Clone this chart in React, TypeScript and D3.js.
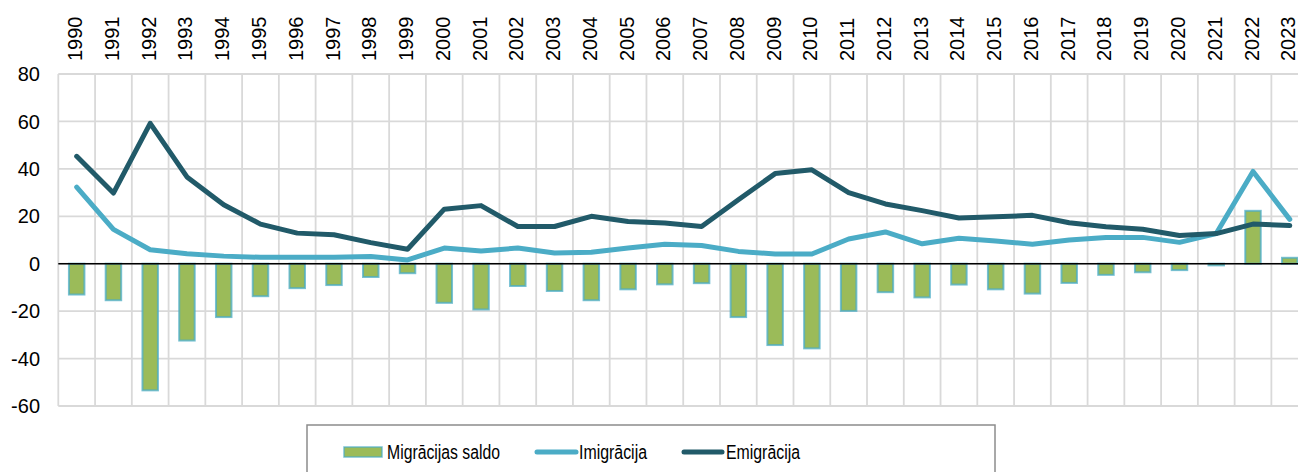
import React from "react";
import { scaleBand, scaleLinear, line } from "d3";

const years = [
  "1990", "1991", "1992", "1993", "1994", "1995", "1996", "1997", "1998", "1999",
  "2000", "2001", "2002", "2003", "2004", "2005", "2006", "2007", "2008", "2009",
  "2010", "2011", "2012", "2013", "2014", "2015", "2016", "2017", "2018", "2019",
  "2020", "2021", "2022", "2023",
];

const saldo = [
  -13.0, -15.4, -53.4, -32.4, -22.5, -13.7, -10.3, -9.0, -5.6, -4.0,
  -16.5, -19.3, -9.4, -11.5, -15.4, -10.8, -8.7, -8.2, -22.5, -34.3,
  -35.7, -19.9, -12.0, -14.2, -8.8, -10.8, -12.6, -8.1, -4.7, -3.6,
  -2.7, -0.7, 22.3, 2.5,
];

const imigracija = [
  32.3, 14.5, 5.9, 4.2, 3.2, 2.7, 2.7, 2.7, 3.0, 1.6,
  6.6, 5.4, 6.6, 4.5, 4.8, 6.6, 8.2, 7.7, 5.2, 4.1,
  4.1, 10.4, 13.4, 8.4, 10.7, 9.6, 8.2, 10.0, 11.1, 11.1,
  9.0, 12.7, 38.9, 18.7,
];

const emigracija = [
  45.3, 29.8, 59.2, 36.6, 24.9, 16.7, 12.9, 12.2, 8.9, 6.1,
  23.0, 24.5, 15.7, 15.7, 20.0, 17.8, 17.2, 15.7, 27.0, 38.0,
  39.6, 30.0, 25.2, 22.4, 19.3, 19.8, 20.4, 17.3, 15.6, 14.5,
  11.9, 12.7, 16.7, 16.1,
];

const yTicks = [80, 60, 40, 20, 0, -20, -40, -60];

const GREEN = "#9BBB59";
const LIGHT = "#4BACC6";
const DARK = "#215A69";
const GRID = "#d9d9d9";
const FONT = "'Liberation Sans', Arial, sans-serif";

export default function App() {
  const width = 1298;
  const height = 472;
  const left = 58.3;
  const step = 36.76;
  const top = 74;
  const bottom = 406;

  const x = scaleBand<string>()
    .domain(years)
    .range([left, left + step * years.length])
    .padding(0);
  const y = scaleLinear().domain([-60, 80]).range([bottom, top]);

  const cx = (i: number) => (x(years[i]) as number) + x.bandwidth() / 2;
  const barW = 15.5;

  const mkLine = line<number>()
    .x((_, i) => cx(i))
    .y((d) => y(d));

  const bandEdges = years.map((yr) => x(yr) as number);

  return (
    <svg
      width={width}
      height={height}
      style={{ position: "absolute", left: 0, top: 0, background: "#fff" }}
      fontFamily={FONT}
    >
      {/* grid */}
      {yTicks.map((t) => (
        <line
          key={"h" + t}
          x1={left}
          x2={width + 20}
          y1={y(t)}
          y2={y(t)}
          stroke={GRID}
          strokeWidth={1.8}
        />
      ))}
      {bandEdges.map((e, i) => (
        <line
          key={"v" + i}
          x1={e}
          x2={e}
          y1={top}
          y2={bottom}
          stroke={GRID}
          strokeWidth={1.8}
        />
      ))}

      {/* y labels */}
      {yTicks.map((t) => (
        <text
          key={"yl" + t}
          x={40}
          y={y(t)}
          dy="0.36em"
          textAnchor="end"
          fontSize={20}
          fill="#000"
        >
          {t}
        </text>
      ))}

      {/* year labels */}
      {years.map((yr, i) => (
        <text
          key={"xl" + yr}
          transform={`translate(${cx(i) + 5.5},61) rotate(-90)`}
          textAnchor="start"
          fontSize={20}
          fill="#000"
        >
          {yr}
        </text>
      ))}

      {/* bars */}
      {saldo.map((v, i) => (
        <rect
          key={"b" + i}
          x={cx(i) - barW / 2}
          y={y(Math.max(0, v))}
          width={barW}
          height={Math.abs(y(v) - y(0))}
          fill={GREEN}
          stroke={LIGHT}
          strokeOpacity={0.75}
          strokeWidth={2}
        />
      ))}

      {/* zero line */}
      <line
        x1={left}
        x2={width + 20}
        y1={y(0)}
        y2={y(0)}
        stroke="#000"
        strokeWidth={1.6}
      />

      {/* lines */}
      <path
        d={mkLine(imigracija) || ""}
        fill="none"
        stroke={LIGHT}
        strokeWidth={5}
        strokeLinejoin="round"
        strokeLinecap="round"
      />
      <path
        d={mkLine(emigracija) || ""}
        fill="none"
        stroke={DARK}
        strokeWidth={5}
        strokeLinejoin="round"
        strokeLinecap="round"
      />

      {/* legend */}
      <rect
        x={307}
        y={425}
        width={688}
        height={70}
        fill="#fff"
        stroke="#8c8c8c"
        strokeWidth={1.5}
      />
      <rect
        x={344}
        y={447}
        width={38}
        height={10}
        fill={GREEN}
        stroke={LIGHT}
        strokeOpacity={0.75}
        strokeWidth={1.5}
      />
      <text x={387} y={459} fontSize={19.5} textLength={113} lengthAdjust="spacingAndGlyphs">
        Migrācijas saldo
      </text>
      <line x1={537} x2={576} y1={452} y2={452} stroke={LIGHT} strokeWidth={5} strokeLinecap="round" />
      <text x={579} y={459} fontSize={19.5} textLength={68} lengthAdjust="spacingAndGlyphs">
        Imigrācija
      </text>
      <line x1={684} x2={722} y1={452} y2={452} stroke={DARK} strokeWidth={5} strokeLinecap="round" />
      <text x={726} y={459} fontSize={19.5} textLength={74} lengthAdjust="spacingAndGlyphs">
        Emigrācija
      </text>
    </svg>
  );
}
